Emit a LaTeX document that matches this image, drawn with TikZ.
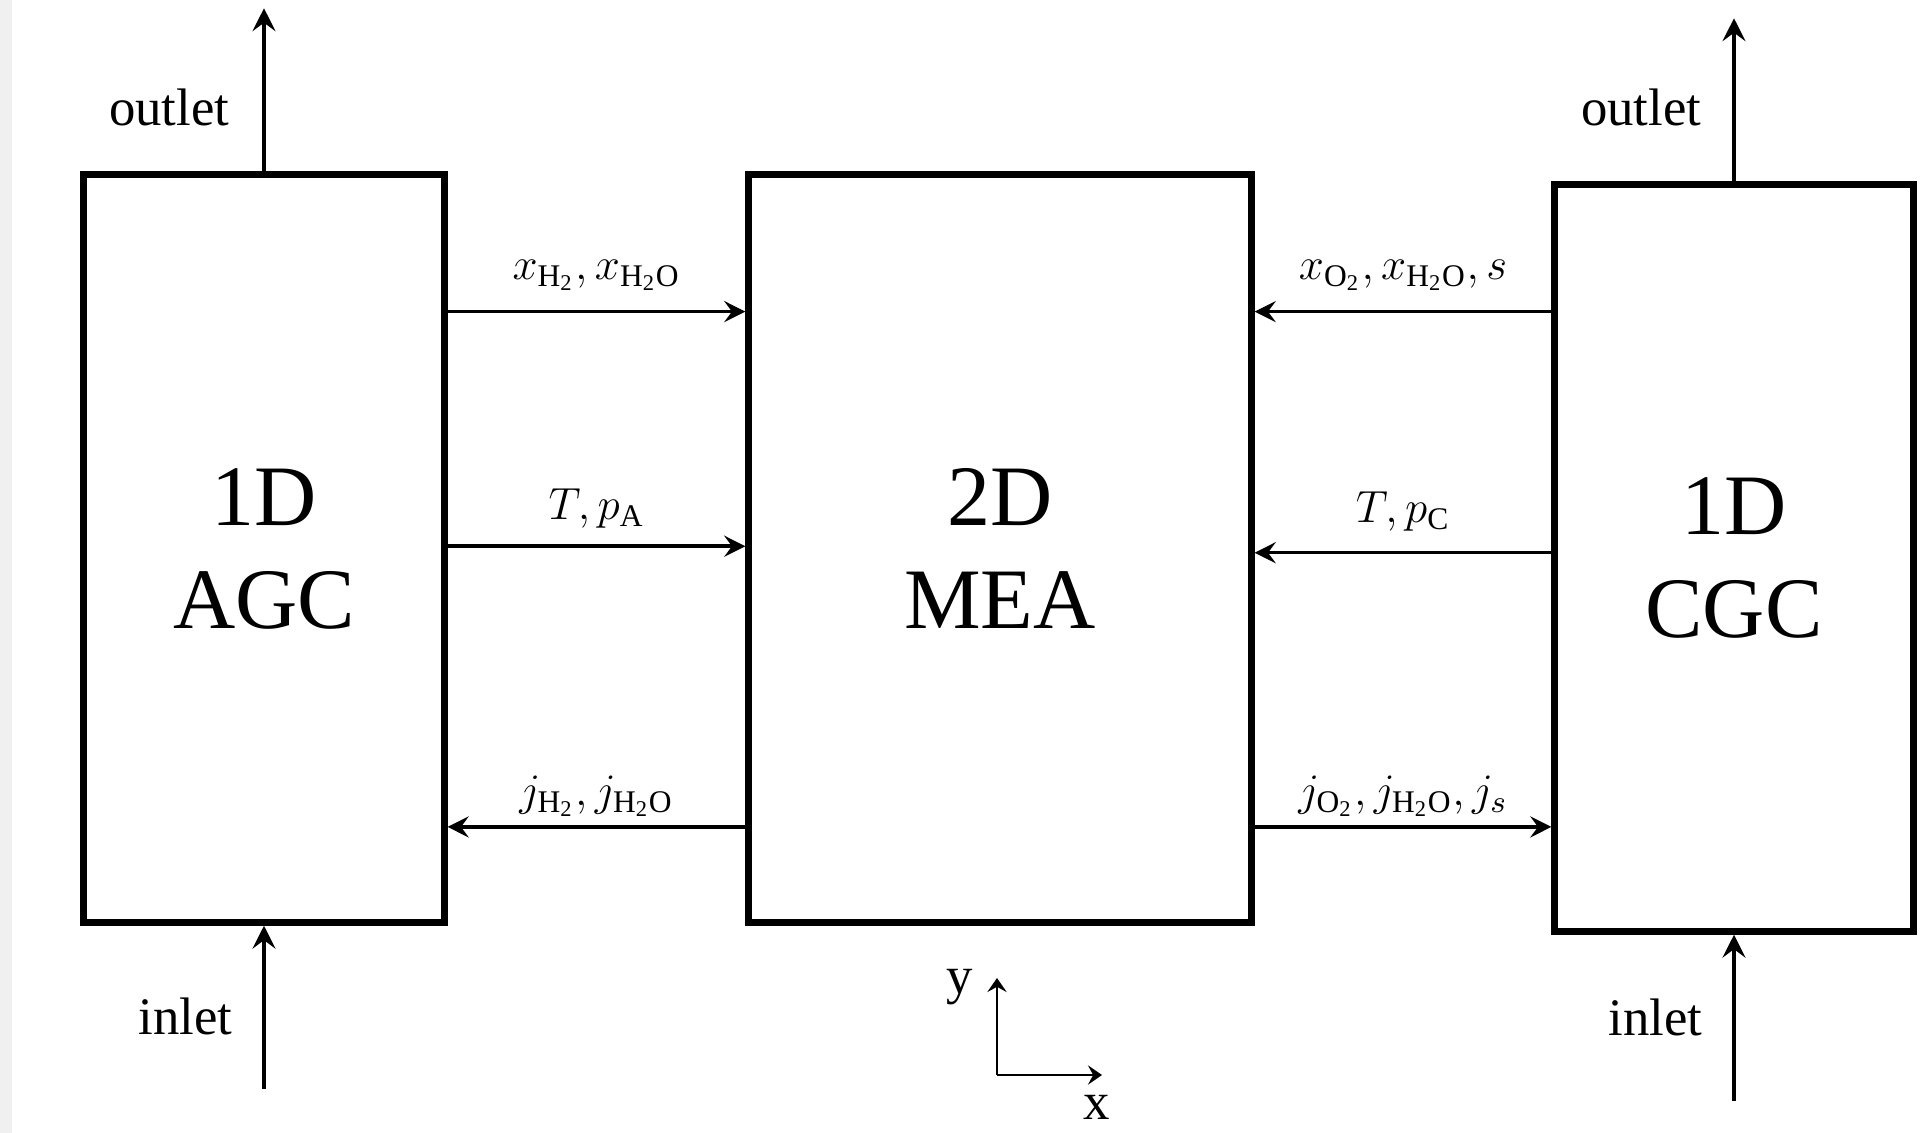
\RequirePackage{fix-cm}
\documentclass[tikz,border=0pt]{standalone}
\usepackage{amsmath}
\usepackage{fontspec}
\setmainfont{Liberation Serif}
\usetikzlibrary{arrows.meta,calc}
\definecolor{stripgray}{HTML}{F0F0F0}

\begin{document}
\begin{tikzpicture}[x=0.01cm, y=-0.01cm]
  \tikzset{block/.style={draw, line width=2pt, inner sep=0pt, align=center,
      font=\fontsize{24.5}{29.3}\selectfont}}
  \tikzset{flow/.style={line width=1pt, -{Stealth[length=6pt, width=6pt, inset=2.2pt]}}}
  \tikzset{io/.style={line width=1.2pt, -{Stealth[length=6.5pt, width=6.5pt, inset=2.4pt]}}}
  \tikzset{axis/.style={line width=0.6pt, -{Stealth[length=4pt, width=5.5pt, inset=1.5pt]}}}
  \tikzset{lbl/.style={midway, anchor=base, inner sep=0pt, font=\fontsize{12.8}{15}\selectfont}}
  \tikzset{txt/.style={inner sep=0pt, font=\fontsize{15}{18}\selectfont}}

  \useasboundingbox (0,0) rectangle (1932,1133);
  \fill[stripgray] (0,0) rectangle (12,1133);

  \node[block, minimum width=3.6cm, minimum height=7.47cm] (AGC) at (264,548.5) {1D\\AGC};
  \node[block, minimum width=5.02cm, minimum height=7.47cm] (MEA) at (1000,548.5) {2D\\MEA};
  \node[block, minimum width=3.58cm, minimum height=7.46cm] (CGC) at (1734,558) {1D\\CGC};

  % anode side
  \draw[flow] ($(AGC.north east)!0.186!(AGC.south east)$) coordinate (a1) -- (a1 -| MEA.west)
    node[lbl, yshift=9pt] {$x_{\mathrm{H_2}},x_{\mathrm{H_2O}}$};
  \draw[flow] ($(AGC.north east)!0.497!(AGC.south east)$) coordinate (a2) -- (a2 -| MEA.west)
    node[lbl, yshift=7.5pt] {$T,p_{\mathrm{A}}$};
  \draw[flow] ($(MEA.north west)!0.869!(MEA.south west)$) coordinate (a3) -- (a3 -| AGC.east)
    node[lbl, yshift=6pt] {$j_{\mathrm{H_2}},j_{\mathrm{H_2O}}$};

  % cathode side
  \draw[flow] ($(CGC.north west)!0.173!(CGC.south west)$) coordinate (c1) -- (c1 -| MEA.east)
    node[lbl, yshift=9pt] {$x_{\mathrm{O_2}},x_{\mathrm{H_2O}},s$};
  \draw[flow] ($(CGC.north west)!0.493!(CGC.south west)$) coordinate (c2) -- (c2 -| MEA.east)
    node[lbl, yshift=8.5pt] {$T,p_{\mathrm{C}}$};
  \draw[flow] ($(MEA.north east)!0.869!(MEA.south east)$) coordinate (c3) -- (c3 -| CGC.west)
    node[lbl, yshift=6pt] {$j_{\mathrm{O_2}},j_{\mathrm{H_2O}},j_s$};

  % inlets and outlets
  \draw[io] (AGC.north) -- ++(0,-163) coordinate (outA);
  \draw[io] (CGC.north) -- ++(0,-163) coordinate (outC);
  \draw[io] (AGC.south) ++(0,163) coordinate (inA) -- (AGC.south);
  \draw[io] (CGC.south) ++(0,166) coordinate (inC) -- (CGC.south);
  \node[txt, anchor=base east] (tOutA) at (230,125) {outlet};
  \node[txt, anchor=base east] (tOutC) at (1702,125) {outlet};
  \node[txt, anchor=base east] (tInA) at (233,1034) {inlet};
  \node[txt, anchor=base east] (tInC) at (1703,1035) {inlet};

  % axes
  \coordinate (O) at (997,1075);
  \coordinate (X) at (1102,1075);
  \coordinate (Y) at (997,978);
  \draw[axis] (O) -- (X);
  \draw[axis] (O) -- (Y);
  \node[txt] (xl) at (1097,1107) {x};
  \node[txt] (yl) at (960,987) {y};
\end{tikzpicture}
\end{document}
